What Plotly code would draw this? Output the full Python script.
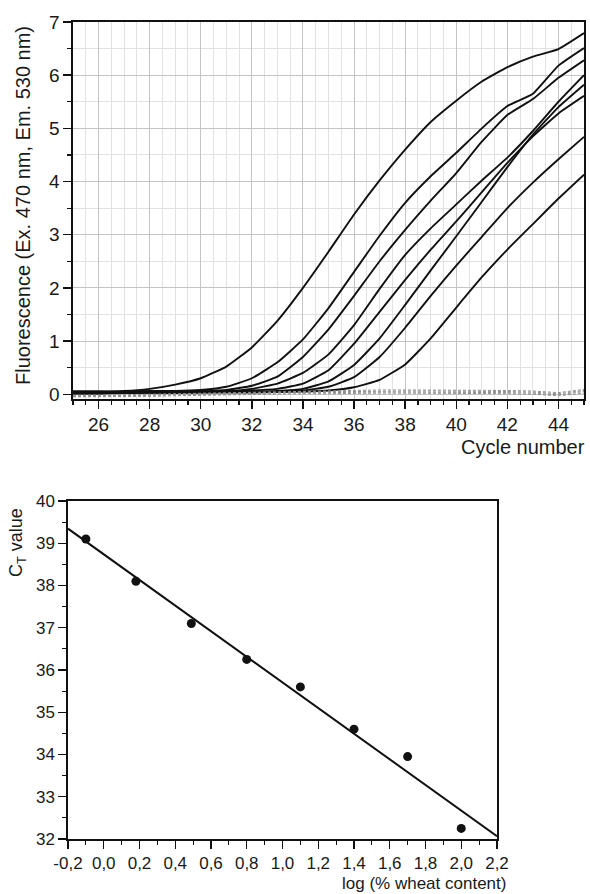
import numpy as np
import plotly.graph_objects as go

# ---------------- data: amplification curves (top panel) ----------------
cycles = list(range(25, 46))

fluo_100 = [0.05, 0.05, 0.06, 0.10, 0.18, 0.30, 0.52, 0.88, 1.38, 2.00, 2.68, 3.38, 4.02, 4.60, 5.12, 5.52, 5.88, 6.15, 6.35, 6.49, 6.79]
fluo_50 = [0.05, 0.05, 0.05, 0.06, 0.06, 0.08, 0.14, 0.30, 0.60, 1.03, 1.62, 2.30, 2.98, 3.60, 4.10, 4.54, 5.00, 5.42, 5.65, 6.18, 6.51]
fluo_25 = [0.04, 0.04, 0.04, 0.04, 0.05, 0.06, 0.08, 0.16, 0.33, 0.70, 1.22, 1.85, 2.50, 3.09, 3.64, 4.16, 4.75, 5.25, 5.55, 5.95, 6.28]
fluo_12 = [0.03, 0.03, 0.03, 0.04, 0.04, 0.05, 0.06, 0.10, 0.20, 0.40, 0.75, 1.30, 1.98, 2.62, 3.12, 3.57, 4.02, 4.45, 4.95, 5.50, 6.00]
fluo_6 = [0.03, 0.03, 0.03, 0.03, 0.04, 0.04, 0.05, 0.07, 0.10, 0.20, 0.45, 0.95, 1.55, 2.15, 2.72, 3.25, 3.80, 4.35, 4.85, 5.28, 5.61]
fluo_3 = [0.02, 0.02, 0.03, 0.03, 0.03, 0.04, 0.04, 0.05, 0.06, 0.10, 0.24, 0.55, 1.05, 1.68, 2.33, 2.97, 3.62, 4.27, 4.88, 5.40, 5.82]
fluo_1p5 = [0.02, 0.02, 0.02, 0.03, 0.03, 0.03, 0.04, 0.04, 0.05, 0.07, 0.14, 0.32, 0.70, 1.25, 1.85, 2.42, 2.96, 3.50, 3.98, 4.42, 4.84]
fluo_0p8 = [0.01, 0.01, 0.02, 0.02, 0.02, 0.03, 0.03, 0.03, 0.04, 0.05, 0.07, 0.13, 0.27, 0.56, 1.05, 1.63, 2.20, 2.72, 3.20, 3.68, 4.13]

neg_ctrl_1 = [-0.02, -0.02, -0.01, 0.00, 0.01, 0.02, 0.03, 0.04, 0.05, 0.06, 0.07, 0.07, 0.08, 0.08, 0.08, 0.08, 0.08, 0.07, 0.06, 0.03, 0.09]
neg_ctrl_2 = [-0.03, -0.03, -0.02, -0.01, 0.00, 0.01, 0.02, 0.03, 0.04, 0.04, 0.05, 0.05, 0.06, 0.06, 0.06, 0.06, 0.06, 0.05, 0.04, 0.01, 0.07]
neg_ctrl_3 = [-0.04, -0.04, -0.03, -0.02, -0.01, 0.00, 0.01, 0.02, 0.02, 0.03, 0.03, 0.04, 0.04, 0.04, 0.04, 0.04, 0.04, 0.03, 0.02, -0.01, 0.05]
neg_ctrl_4 = [-0.05, -0.05, -0.04, -0.04, -0.03, -0.02, -0.01, 0.00, 0.00, 0.01, 0.01, 0.02, 0.02, 0.02, 0.02, 0.02, 0.02, 0.01, 0.00, -0.03, 0.02]

# ---------------- data: standard curve (bottom panel) ----------------
log_wheat = [-0.1, 0.18, 0.49, 0.8, 1.1, 1.4, 1.7, 2.0]
ct_values = [39.1, 38.1, 37.1, 36.25, 35.6, 34.6, 33.95, 32.25]

x2_range = [-0.2, 2.2]
x2_tickvals = [-0.2, 0.0, 0.2, 0.4, 0.6, 0.8, 1.0, 1.2, 1.4, 1.6, 1.8, 2.0, 2.2]
x2_ticktext = [f"{v:.1f}".replace(".", ",") for v in x2_tickvals]

FONT = "Liberation Sans, Arial, Helvetica, sans-serif"
TXT = "#1a1a1a"

fig = go.Figure()

for ys in [fluo_100, fluo_50, fluo_25, fluo_12, fluo_6, fluo_3, fluo_1p5, fluo_0p8]:
    fig.add_trace(go.Scatter(x=cycles, y=ys, mode="lines",
                             line=dict(color="#111111", width=1.9, shape="spline", smoothing=0.4),
                             xaxis="x", yaxis="y", showlegend=False, hoverinfo="skip"))

for ys in [neg_ctrl_1, neg_ctrl_2, neg_ctrl_3, neg_ctrl_4]:
    fig.add_trace(go.Scatter(x=cycles, y=ys, mode="lines",
                             line=dict(color="#8f8f8f", width=1, dash="3px,2px"),
                             xaxis="x", yaxis="y", showlegend=False, hoverinfo="skip"))

slope, intercept = np.polyfit(log_wheat, ct_values, 1)
fit_x = np.array(x2_range)
fit_y = slope * fit_x + intercept
fig.add_trace(go.Scatter(x=fit_x, y=fit_y, mode="lines",
                         line=dict(color="#111111", width=2),
                         xaxis="x2", yaxis="y2", showlegend=False, hoverinfo="skip"))
fig.add_trace(go.Scatter(x=log_wheat, y=ct_values, mode="markers",
                         marker=dict(color="#111111", size=9),
                         xaxis="x2", yaxis="y2", showlegend=False, hoverinfo="skip"))

W, H = 590, 894

def xd(a, b):
    return [a / W, b / W]

def yd(top, bottom):
    return [1 - bottom / H, 1 - top / H]

common_axis = dict(showline=True, linecolor="#111111", linewidth=1.6, mirror=True,
                   ticks="outside", tickcolor="#111111", tickwidth=1.4, ticklen=8,
                   zeroline=False, automargin=False,
                   tickfont=dict(family=FONT, size=19, color=TXT))

fig.update_layout(
    width=W, height=H,
    margin=dict(l=0, r=0, t=0, b=0, pad=0),
    paper_bgcolor="white", plot_bgcolor="white",
    separators=", ",
    showlegend=False,
    hovermode=False,
    xaxis=dict(common_axis, domain=xd(73, 584), range=[25, 45], dtick=2, tick0=0,
               showgrid=True, gridcolor="#c4c4c4", gridwidth=1,
               minor=dict(dtick=0.5, tick0=0, ticks="outside", ticklen=4, tickcolor="#111111",
                          tickwidth=1.2, showgrid=True, gridcolor="#e2e2e2", gridwidth=1),
               anchor="y"),
    yaxis=dict(common_axis, domain=yd(22, 399), range=[-0.09, 7.0], dtick=1, tick0=0,
               showgrid=True, gridcolor="#c4c4c4", gridwidth=1,
               minor=dict(dtick=0.5, tick0=0, ticks="outside", ticklen=4, tickcolor="#111111",
                          tickwidth=1.2, showgrid=True, gridcolor="#e2e2e2", gridwidth=1),
               anchor="x"),
    xaxis2=dict(common_axis, domain=xd(68, 497), range=x2_range,
                tickmode="array", tickvals=x2_tickvals, ticktext=x2_ticktext,
                tickfont=dict(family=FONT, size=17, color=TXT),
                showgrid=False,
                minor=dict(dtick=0.1, tick0=0, ticks="outside", ticklen=4, tickcolor="#111111",
                           tickwidth=1.2, showgrid=False),
                anchor="y2"),
    yaxis2=dict(common_axis, domain=yd(501, 839), range=[32, 40], dtick=1, tick0=0,
                tickfont=dict(family=FONT, size=17, color=TXT),
                showgrid=False,
                minor=dict(dtick=0.5, tick0=0, ticks="outside", ticklen=4, tickcolor="#111111",
                           tickwidth=1.2, showgrid=False),
                anchor="x2"),
    annotations=[
        dict(text="Fluorescence (Ex. 470 nm, Em. 530 nm)", textangle=-90,
             x=23 / W, y=1 - 206 / H, xref="paper", yref="paper",
             xanchor="center", yanchor="middle", showarrow=False,
             font=dict(family=FONT, size=20, color=TXT)),
        dict(text="Cycle number", x=587 / W, y=1 - 447 / H, xref="paper", yref="paper",
             xanchor="right", yanchor="middle", showarrow=False,
             font=dict(family=FONT, size=20, color=TXT)),
        dict(text="C<sub>T</sub> value", textangle=-90,
             x=17 / W, y=1 - 543 / H, xref="paper", yref="paper",
             xanchor="center", yanchor="middle", showarrow=False,
             font=dict(family=FONT, size=18, color=TXT)),
        dict(text="log (% wheat content)", x=508 / W, y=1 - 883 / H, xref="paper", yref="paper",
             xanchor="right", yanchor="middle", showarrow=False,
             font=dict(family=FONT, size=17, color=TXT)),
    ],
)

fig.write_html("out.html",
               config={"displayModeBar": False, "staticPlot": True},
               post_script="document.body.style.margin='0';document.body.style.overflow='hidden';"
                           "document.documentElement.style.overflow='hidden';")
